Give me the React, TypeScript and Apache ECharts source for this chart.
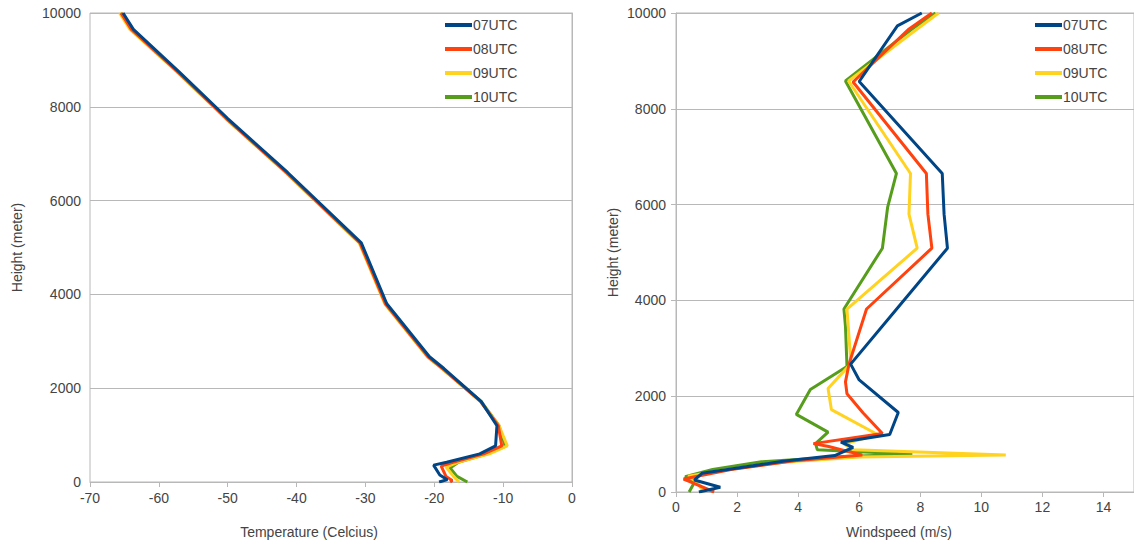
import React, { useEffect, useRef } from "react";
import * as echarts from "echarts";

const seriesNames = ["07UTC", "08UTC", "09UTC", "10UTC"];
const seriesColors = ["#004586", "#ff420e", "#ffd320", "#579d1c"];

// [temperature (C), height (m)]
const temp07: [number, number][] = [
  [-65.2, 10000], [-63.7, 9650], [-57.1, 8750], [-50.0, 7750], [-41.3, 6600],
  [-30.6, 5100], [-26.9, 3800], [-20.7, 2670], [-18.6, 2420],
  [-13.2, 1720], [-10.9, 1200], [-11.1, 770], [-13.4, 600], [-18.2, 420],
  [-20.1, 360], [-19.2, 150], [-18.1, 50], [-19.3, 0],
];
const temp08: [number, number][] = [
  [-65.5, 10000], [-64.0, 9650], [-57.3, 8750], [-50.2, 7750], [-41.5, 6600],
  [-30.8, 5100], [-27.1, 3800], [-20.9, 2670], [-18.8, 2420],
  [-13.3, 1720], [-10.7, 1200], [-10.2, 770], [-12.8, 600], [-17.3, 420],
  [-19.0, 340], [-18.3, 120], [-17.4, 30], [-17.7, 0],
];
const temp09: [number, number][] = [
  [-65.7, 10000], [-64.2, 9650], [-57.4, 8750], [-50.3, 7750], [-41.6, 6600],
  [-30.9, 5100], [-27.2, 3800], [-21.0, 2670], [-18.9, 2420],
  [-13.3, 1720], [-10.6, 1200], [-9.4, 770], [-12.0, 600], [-16.6, 420],
  [-18.3, 320], [-17.2, 120], [-16.4, 0],
];
const temp10: [number, number][] = [
  [-65.5, 10000], [-64.0, 9650], [-57.3, 8750], [-50.2, 7750], [-41.5, 6600],
  [-30.8, 5100], [-27.1, 3800], [-20.9, 2670], [-18.8, 2420],
  [-13.2, 1720], [-10.6, 1200], [-9.7, 760], [-12.3, 600], [-16.5, 420],
  [-17.7, 300], [-16.7, 120], [-15.2, 0],
];

// [windspeed (m/s), height (m)]
const wind07: [number, number][] = [
  [8.05, 10000], [7.25, 9730], [6.0, 8570], [8.72, 6650], [8.78, 5800],
  [8.89, 5090], [7.2, 3800], [5.72, 2670], [6.0, 2340], [7.28, 1660],
  [7.0, 1200], [5.4, 1040], [5.8, 930], [5.2, 760], [3.5, 640], [1.8, 480],
  [0.85, 390], [0.6, 250], [1.45, 100], [0.75, 0],
];
const wind08: [number, number][] = [
  [8.38, 10000], [7.6, 9650], [5.8, 8560], [8.2, 6650], [8.25, 5800],
  [8.38, 5090], [6.24, 3820], [5.67, 2680], [5.55, 2300], [5.6, 2050],
  [6.13, 1650], [6.76, 1220], [4.5, 1010], [5.0, 950], [6.1, 770],
  [4.0, 660], [1.8, 470], [0.25, 270], [0.55, 190], [1.25, 0],
];
const wind09: [number, number][] = [
  [8.6, 10000], [7.8, 9620], [5.65, 8580], [7.68, 6650], [7.63, 5800],
  [7.9, 5090], [5.6, 3820], [5.73, 2680], [4.98, 2160], [5.09, 1720],
  [6.6, 1200], [5.5, 1000], [5.8, 880], [10.8, 770], [6.0, 730],
  [3.5, 620], [1.5, 450], [0.4, 330], [0.7, 200], [0.9, 0],
];
const wind10: [number, number][] = [
  [8.5, 10000], [7.7, 9650], [5.55, 8580], [7.22, 6650], [6.93, 5940],
  [6.76, 5090], [5.5, 3820], [5.55, 3460], [5.6, 2620], [4.4, 2140],
  [3.94, 1620], [4.98, 1250], [4.57, 1010], [4.63, 880], [7.74, 790],
  [5.5, 740], [2.8, 630], [1.2, 470], [0.3, 320], [0.6, 200], [0.43, 0],
];

const heightTicks = { min: 0, max: 10000, interval: 2000 };
const tempTicks = { min: -70, max: 0, interval: 10 };
const windTicks = { min: 0, max: 15, interval: 2 };

const tempData = [temp07, temp08, temp09, temp10];
const windData = [wind07, wind08, wind09, wind10];

const FONT = "'Liberation Sans', Arial, sans-serif";
const TEXT = "#444";
const GRID = "#b8b8b8";

export default function App() {
  const ref = useRef<HTMLDivElement>(null);

  useEffect(() => {
    if (!ref.current) return;
    const chart = echarts.init(ref.current, undefined, { renderer: "svg" });

    const plain = (v: number) => String(v);

    const axisCommon = {
      axisLine: { show: true, lineStyle: { color: GRID, width: 1 } },
      axisTick: { show: true, length: 5, lineStyle: { color: GRID } },
      axisLabel: { color: TEXT, fontSize: 14, fontFamily: FONT, margin: 9, formatter: plain },
      nameTextStyle: { color: TEXT, fontSize: 14, fontFamily: FONT },
      nameLocation: "middle" as const,
    };

    const makeLegend = (left: number) => ({
      left,
      top: 13,
      orient: "vertical" as const,
      icon: "rect",
      itemWidth: 27,
      itemHeight: 4,
      itemGap: 10,
      textStyle: { color: TEXT, fontSize: 14, fontFamily: FONT, padding: [0, 0, 0, -4] },
      data: seriesNames,
    });

    const series: any[] = [];
    tempData.forEach((d, i) => {
      series.push({
        name: seriesNames[i],
        type: "line",
        xAxisIndex: 0,
        yAxisIndex: 0,
        data: d,
        symbol: "none",
        z: 10 - i,
        lineStyle: { width: 3, color: seriesColors[i] },
        itemStyle: { color: seriesColors[i] },
      });
    });
    windData.forEach((d, i) => {
      series.push({
        name: seriesNames[i],
        type: "line",
        xAxisIndex: 1,
        yAxisIndex: 1,
        data: d,
        symbol: "none",
        z: 10 - i,
        lineStyle: { width: 3, color: seriesColors[i] },
        itemStyle: { color: seriesColors[i] },
      });
    });

    chart.setOption({
      animation: false,
      backgroundColor: "#ffffff",
      textStyle: { fontFamily: FONT },
      legend: [makeLegend(440), makeLegend(1030)],
      grid: [
        {
          left: 90, top: 13, width: 482, height: 474,
          show: true, borderColor: GRID, borderWidth: 1, backgroundColor: "transparent",
        },
        {
          left: 676, top: 13, width: 459, height: 479,
          show: true, borderColor: GRID, borderWidth: 1, backgroundColor: "transparent",
        },
      ],
      xAxis: [
        {
          ...axisCommon,
          gridIndex: 0,
          type: "value",
          ...tempTicks,
          splitLine: { show: false },
          name: "Temperature (Celcius)",
          nameGap: 43,
          nameTextStyle: { ...axisCommon.nameTextStyle, padding: [0, 44, 0, 0] },
        },
        {
          ...axisCommon,
          gridIndex: 1,
          type: "value",
          ...windTicks,
          splitLine: { show: false },
          axisLabel: { ...axisCommon.axisLabel, margin: 8, showMaxLabel: false },
          name: "Windspeed (m/s)",
          nameGap: 33,
          nameTextStyle: { ...axisCommon.nameTextStyle, padding: [0, 12, 0, 0] },
        },
      ],
      yAxis: [
        {
          ...axisCommon,
          gridIndex: 0,
          type: "value",
          ...heightTicks,
          splitLine: { show: true, lineStyle: { color: GRID, width: 1 } },
          name: "Height (meter)",
          nameGap: 66,
        },
        {
          ...axisCommon,
          gridIndex: 1,
          type: "value",
          ...heightTicks,
          splitLine: { show: true, lineStyle: { color: GRID, width: 1 } },
          axisLabel: { ...axisCommon.axisLabel, margin: 10 },
          name: "Height (meter)",
          nameGap: 56,
        },
      ],
      series,
    });

    return () => chart.dispose();
  }, []);

  return (
    <div
      ref={ref}
      style={{ position: "absolute", left: 0, top: 0, width: 1134, height: 544 }}
    />
  );
}
